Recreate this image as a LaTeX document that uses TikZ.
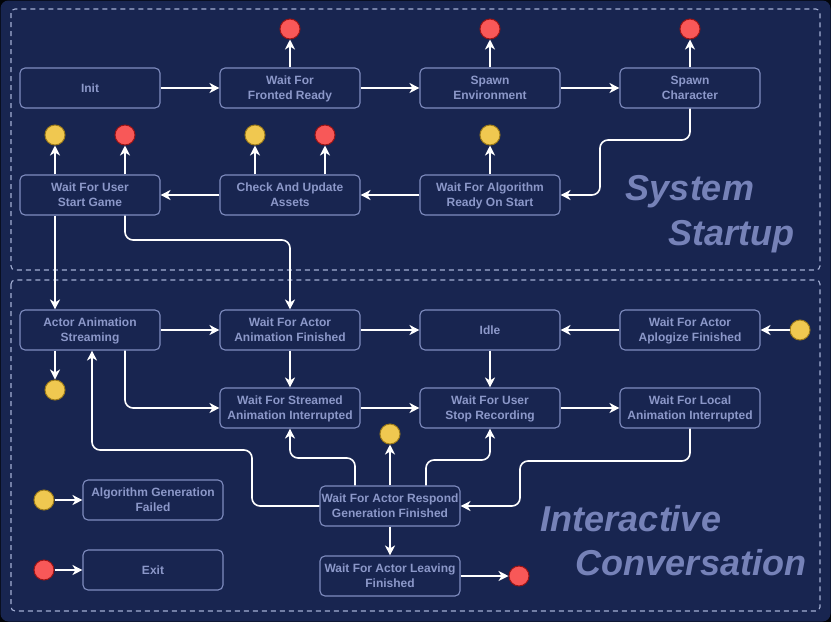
\documentclass[tikz,border=0pt]{standalone}
\usepackage{fontspec}
\setmainfont{Liberation Sans}
\usetikzlibrary{arrows.meta}

\definecolor{navy}{HTML}{182550}
\definecolor{edgeblue}{HTML}{7F8CBF}
\definecolor{textblue}{HTML}{8C98C9}
\definecolor{dashblue}{HTML}{A3AED3}
\definecolor{bigtext}{HTML}{7682B8}
\definecolor{redfill}{HTML}{F85858}
\definecolor{redline}{HTML}{9A1414}
\definecolor{yelfill}{HTML}{F0C850}
\definecolor{yelline}{HTML}{9C7A1A}

\tikzset{
  state/.style={draw=edgeblue, line width=1.1pt, rounded corners=5pt,
    minimum width=140pt, minimum height=40pt, inner sep=0pt, align=center,
    text depth=0pt,
    font=\fontsize{12}{15}\selectfont\bfseries, text=textblue},
  redpt/.style={circle, draw=redline, fill=redfill, line width=1pt,
    minimum size=20pt, inner sep=0pt},
  yelpt/.style={circle, draw=yelline, fill=yelfill, line width=1pt,
    minimum size=20pt, inner sep=0pt},
  flow/.style={draw=white, line width=1.6pt, rounded corners=8pt,
    -{Stealth[length=10pt,width=10pt,inset=3pt]}},
  region/.style={draw=dashblue, line width=1.1pt, dash pattern=on 5pt off 4pt,
    rounded corners=4pt},
  bigtxt/.style={text=bigtext, font=\fontsize{36}{36}\selectfont\bfseries\itshape,
    inner sep=0pt, anchor=base}
}

\begin{document}
\begin{tikzpicture}[x=1pt,y=-1pt]
\useasboundingbox (0,0) rectangle (831,622);
% canvas
\fill[black!90!navy] (0,0) rectangle (831,622);
\fill[navy, rounded corners=8pt] (0.5,0.5) rectangle (830.5,621.5);

% the two phases
\draw[region] (11,9) rectangle (820,270);
\draw[region] (11,280) rectangle (820,611);

\node[bigtxt] (lsys) at (690,200) {System};
\node[bigtxt] (lstart) at (731,245) {Startup};
\node[bigtxt] (linter) at (631,531) {Interactive};
\node[bigtxt] (lconv) at (691,575) {Conversation};

% startup states
\node[state] (init) at (90,88) {Init};
\node[state] (fronted) at (290,88) {Wait For\\Fronted Ready};
\node[state] (senv) at (490,88) {Spawn\\Environment};
\node[state] (schar) at (690,88) {Spawn\\Character};
\node[state] (wus) at (90,195) {Wait For User\\Start Game};
\node[state] (cua) at (290,195) {Check And Update\\Assets};
\node[state] (wars) at (490,195) {Wait For Algorithm\\Ready On Start};

\node[redpt] (rf) at (290,29) {};
\node[redpt] (re) at (490,29) {};
\node[redpt] (rc) at (690,29) {};
\node[yelpt] (yw) at (55,135) {};
\node[redpt] (rw) at (125,135) {};
\node[yelpt] (ya) at (255,135) {};
\node[redpt] (ra) at (325,135) {};
\node[yelpt] (yr) at (490,135) {};

% conversation states
\node[state] (aas) at (90,330) {Actor Animation\\Streaming};
\node[state] (waf) at (290,330) {Wait For Actor\\Animation Finished};
\node[state] (idle) at (490,330) {Idle};
\node[state] (apol) at (690,330) {Wait For Actor\\Aplogize Finished};
\node[state] (wsai) at (290,408) {Wait For Streamed\\Animation Interrupted};
\node[state] (wusr) at (490,408) {Wait For User\\Stop Recording};
\node[state] (wlai) at (690,408) {Wait For Local\\Animation Interrupted};
\node[state] (resp) at (390,506) {Wait For Actor Respond\\Generation Finished};
\node[state] (leave) at (390,576) {Wait For Actor Leaving\\Finished};
\node[state] (agf) at (153,500) {Algorithm Generation\\Failed};
\node[state] (exit) at (153,570) {Exit};

\node[yelpt] (yapol) at (800,330) {};
\node[yelpt] (yaas) at (55,390) {};
\node[yelpt] (yresp) at (390,434) {};
\node[redpt] (rleave) at (519,576) {};
\node[yelpt] (yagf) at (44,500) {};
\node[redpt] (rexit) at (44,570) {};

% startup flow
\draw[flow] (init) -- (fronted);
\draw[flow] (fronted) -- (senv);
\draw[flow] (senv) -- (schar);
\draw[flow] (fronted) -- (rf);
\draw[flow] (senv) -- (re);
\draw[flow] (schar) -- (rc);
\draw[flow] (schar.south) -- (690,140) -- (600,140) -- (600,195) -- (wars.east);
\draw[flow] (wars) -- (cua);
\draw[flow] (cua) -- (wus);
\draw[flow] (wars) -- (yr);
\draw[flow] ([xshift=-35pt]cua.north) -- (ya);
\draw[flow] ([xshift=35pt]cua.north) -- (ra);
\draw[flow] ([xshift=-35pt]wus.north) -- (yw);
\draw[flow] ([xshift=35pt]wus.north) -- (rw);

% into the conversation
\draw[flow] ([xshift=-35pt]wus.south) -- ([xshift=-35pt]aas.north);
\draw[flow] ([xshift=35pt]wus.south) -- (125,240) -- (290,240) -- (waf.north);

% conversation flow
\draw[flow] (aas) -- (waf);
\draw[flow] (waf) -- (idle);
\draw[flow] (apol) -- (idle);
\draw[flow] (yapol) -- (apol);
\draw[flow] ([xshift=-35pt]aas.south) -- (yaas);
\draw[flow] ([xshift=35pt]aas.south) -- (125,408) -- (wsai.west);
\draw[flow] (waf) -- (wsai);
\draw[flow] (idle) -- (wusr);
\draw[flow] (wsai) -- (wusr);
\draw[flow] (wusr) -- (wlai);
\draw[flow] (wlai.south) -- (690,461) -- (520,461) -- (520,506) -- (resp.east);
\draw[flow] ([xshift=-35pt]resp.north) -- (355,458) -- (290,458) -- (wsai.south);
\draw[flow] (resp) -- (yresp);
\draw[flow] ([xshift=36pt]resp.north) -- (426,460) -- (490,460) -- (wusr.south);
\draw[flow] (resp.west) -- (252,506) -- (252,450) -- (92,450) -- ([xshift=2pt]aas.south);
\draw[flow] (resp) -- (leave);
\draw[flow] (leave) -- (rleave);
\draw[flow] (yagf) -- (agf);
\draw[flow] (rexit) -- (exit);
\end{tikzpicture}
\end{document}
